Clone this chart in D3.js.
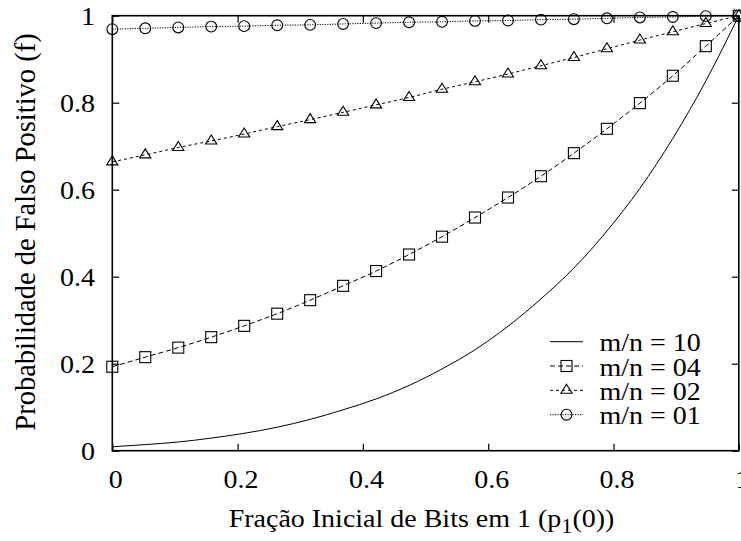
<!DOCTYPE html>
<html>
<head>
<meta charset="utf-8">
<script src="https://cdn.jsdelivr.net/npm/d3@7"></script>
<style>
  html, body { margin: 0; padding: 0; background: #fff; }
  svg { display: block; }
  text { font-family: "Liberation Serif", "Times New Roman", serif; fill: #000; }
</style>
</head>
<body>
<svg id="chart" width="741" height="541"></svg>
<script>
// ---- data ----
const xValues = [0, 0.0526, 0.1053, 0.1579, 0.2105, 0.2632, 0.3158, 0.3684, 0.4211, 0.4737,
                 0.5263, 0.5789, 0.6316, 0.6842, 0.7368, 0.7895, 0.8421, 0.8947, 0.9474, 1];
const seriesNames = ["m/n = 10", "m/n = 04", "m/n = 02", "m/n = 01"];
const mn10 = [0.009, 0.014, 0.020, 0.029, 0.040, 0.054, 0.072, 0.094, 0.119, 0.150,
              0.188, 0.232, 0.286, 0.349, 0.420, 0.505, 0.603, 0.718, 0.850, 1.0];
const mn04 = [0.193, 0.215, 0.237, 0.261, 0.287, 0.315, 0.346, 0.379, 0.413, 0.451,
              0.492, 0.536, 0.582, 0.631, 0.684, 0.740, 0.799, 0.862, 0.930, 1.0];
const mn02 = [0.664, 0.680, 0.697, 0.712, 0.728, 0.745, 0.761, 0.778, 0.795, 0.812,
              0.831, 0.848, 0.866, 0.885, 0.904, 0.924, 0.944, 0.963, 0.982, 1.0];
const mn01 = [0.969, 0.971, 0.973, 0.975, 0.976, 0.978, 0.979, 0.981, 0.983, 0.985,
              0.986, 0.988, 0.989, 0.991, 0.992, 0.994, 0.996, 0.997, 0.999, 1.0];
const xTicks = [0, 0.2, 0.4, 0.6, 0.8, 1];
const xTickLabels = ["0", "0.2", "0.4", "0.6", "0.8", "1"];
const yTicks = [0, 0.2, 0.4, 0.6, 0.8, 1];
const yTickLabels = ["0", "0.2", "0.4", "0.6", "0.8", "1"];

// ---- layout ----
const L = 112.3, R = 738.8, T = 15.7, B = 450.7;
const FS = 25;      // font size
const SX = 1.12;    // horizontal stretch of the reference rendering
const svg = d3.select("#chart");

const x = d3.scaleLinear().domain([0, 1]).range([L, R]);
const y = d3.scaleLinear().domain([0, 1]).range([B, T]);

const series = [
  { name: seriesNames[0], values: mn10, dash: null, marker: null },
  { name: seriesNames[1], values: mn04, dash: "5,3", marker: "square" },
  { name: seriesNames[2], values: mn02, dash: "3,3", marker: "triangle" },
  { name: seriesNames[3], values: mn01, dash: "1.2,1.3", marker: "circle" }
];

// ---- axes (inward ticks on all four sides) ----
const tickLen = 7;
function styleAxis(g) {
  g.select(".domain").remove();
  g.selectAll(".tick line").attr("stroke", "#000").attr("stroke-width", 1.2);
}
const gBottom = svg.append("g").attr("transform", `translate(0,${B})`)
  .call(d3.axisBottom(x).tickValues(xTicks).tickSize(-tickLen).tickFormat((d, i) => xTickLabels[i]));
styleAxis(gBottom);
gBottom.selectAll(".tick text")
  .attr("y", 0).attr("dy", 0)
  .attr("font-size", FS)
  .attr("text-anchor", "middle")
  .attr("transform", `translate(3,37.3) scale(${SX},1)`);

const gTop = svg.append("g").attr("transform", `translate(0,${T})`)
  .call(d3.axisTop(x).tickValues(xTicks).tickSize(-tickLen).tickFormat(""));
styleAxis(gTop);

const gLeft = svg.append("g").attr("transform", `translate(${L},0)`)
  .call(d3.axisLeft(y).tickValues(yTicks).tickSize(-tickLen).tickFormat((d, i) => yTickLabels[i]));
styleAxis(gLeft);
gLeft.selectAll(".tick text")
  .attr("x", 0).attr("dy", 0)
  .attr("font-size", FS)
  .attr("text-anchor", "end")
  .attr("transform", `translate(-17.3,8.3) scale(${SX},1)`);

const gRight = svg.append("g").attr("transform", `translate(${R},0)`)
  .call(d3.axisRight(y).tickValues(yTicks).tickSize(-tickLen).tickFormat(""));
styleAxis(gRight);

// frame
svg.append("rect")
  .attr("x", L).attr("y", T).attr("width", R - L).attr("height", B - T)
  .attr("fill", "none").attr("stroke", "#000").attr("stroke-width", 1.6);

// ---- lines ----
const line = d3.line()
  .x((d, i) => x(xValues[i]))
  .y(d => y(d))
  .curve(d3.curveMonotoneX);

const plot = svg.append("g");
series.forEach(s => {
  plot.append("path")
    .datum(s.values)
    .attr("d", line)
    .attr("fill", "none")
    .attr("stroke", "#000")
    .attr("stroke-width", 1)
    .attr("stroke-dasharray", s.dash);
});

function drawMarker(g, type, cx, cy) {
  if (type === "square") {
    g.append("rect").attr("x", cx - 5.5).attr("y", cy - 5.5).attr("width", 11).attr("height", 11)
      .attr("fill", "none").attr("stroke", "#000").attr("stroke-width", 1.1);
  } else if (type === "triangle") {
    g.append("path").attr("d", `M${cx},${cy - 6}L${cx + 5.6},${cy + 3}L${cx - 5.6},${cy + 3}Z`)
      .attr("fill", "none").attr("stroke", "#000").attr("stroke-width", 1.1);
  } else if (type === "circle") {
    g.append("circle").attr("cx", cx).attr("cy", cy).attr("r", 5.4)
      .attr("fill", "none").attr("stroke", "#000").attr("stroke-width", 1.1);
  }
}
series.forEach(s => {
  if (!s.marker) return;
  const g = plot.append("g");
  s.values.forEach((v, i) => drawMarker(g, s.marker, x(xValues[i]), y(v)));
});

// ---- legend ----
const legY = [341.7, 366, 390.3, 414.7];
const legend = svg.append("g");
series.forEach((s, i) => {
  legend.append("line")
    .attr("x1", 550).attr("x2", 583).attr("y1", legY[i]).attr("y2", legY[i])
    .attr("stroke", "#000").attr("stroke-width", 1)
    .attr("stroke-dasharray", s.dash);
  if (s.marker) drawMarker(legend, s.marker, 566.5, legY[i]);
  legend.append("text")
    .attr("font-size", FS)
    .attr("transform", `translate(599.5,${legY[i] + 9.5}) scale(${SX},1)`)
    .text(s.name);
});

// ---- axis titles ----
const xt = svg.append("text")
  .attr("font-size", FS)
  .attr("text-anchor", "middle")
  .attr("transform", `translate(${(L + R) / 2 - 4},527) scale(${SX},1)`);
xt.append("tspan").text("Fração Inicial de Bits em 1 (p");
xt.append("tspan").attr("font-size", FS * 0.8).attr("dy", 6).text("1");
xt.append("tspan").attr("dy", -6).text("(0))");

svg.append("text")
  .attr("font-size", 28.5)
  .attr("text-anchor", "middle")
  .attr("transform", `translate(35,232) rotate(-90)`)
  .text("Probabilidade de Falso Positivo (f)");
</script>
</body>
</html>
